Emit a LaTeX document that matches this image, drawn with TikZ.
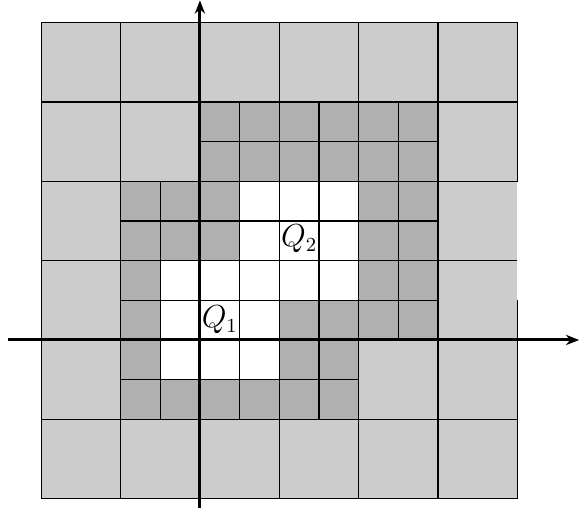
\documentclass[tikz,border=0pt]{standalone}
\usepackage{amsmath,amssymb}
\usepackage{tikz}
\usetikzlibrary{arrows.meta}
\usepackage{xcolor}

\begin{document}
\begin{tikzpicture}[x=0.63cm,y=0.63cm,
    bigcell/.style={fill=black!20,draw=black,line width=0.6pt},
    smallcell/.style={fill=black!31,draw=black,line width=0.6pt},
    hole/.style={fill=white,draw=black,line width=0.6pt},
    label/.style={font=\fontsize{13.5}{16}\selectfont},
    axis/.style={line width=1.35pt,-{Stealth[length=6pt,width=4.6pt]}}]
    \useasboundingbox (-5.04,-4.34) rectangle (9.58,8.57);
    % coarse cells
    \foreach \x/\y in {-4/6, -2/6, 0/6, 2/6, 4/6, 6/6,
                       -4/4, -2/4, 6/4,
                       -4/2,
                       -4/0,
                       -4/-2, 4/-2, 6/-2,
                       -4/-4, -2/-4, 0/-4, 2/-4, 4/-4, 6/-4} {
      \draw[bigcell] (\x,\y) rectangle ++(2,2);
    }
    % right column, the edge at x=8 is left open between y=1 and y=4
    \fill[black!20] (6,0) rectangle (8,4);
    \draw[line width=0.6pt] (8,4) -- (6,4) -- (6,0) -- (8,0) -- (8,1);
    \draw[line width=0.6pt] (6,2) -- (8,2);
    % refined cells
    \foreach \x/\y in {0/4, 2/4, 4/4, -2/2, 0/2, 2/2, 4/2,
                       -2/0, 0/0, 2/0, 4/0, -2/-2, 0/-2, 2/-2} {
      \foreach \i in {0,1} {
        \foreach \j in {0,1} {
          \draw[smallcell] (\x+\i,\y+\j) rectangle ++(1,1);
        }
      }
    }
    % Q_1 and Q_2
    \foreach \x/\y in {1/3, 2/3, 3/3, 1/2, 2/2, 3/2,
                       -1/1, 0/1, 1/1, 2/1, 3/1,
                       -1/0, 0/0, 1/0, -1/-1, 0/-1, 1/-1} {
      \draw[hole] (\x,\y) rectangle ++(1,1);
    }
    \node[label] (q1) at (0.5,0.5) {$Q_1$};
    \node[label] (q2) at (2.5,2.55) {$Q_2$};
    % axes
    \coordinate (xmin) at (-4.84,0);
    \coordinate (xmax) at (9.56,0);
    \coordinate (ymin) at (0,-4.23);
    \coordinate (ymax) at (0,8.56);
    \draw[axis] (xmin) -- (xmax);
    \draw[axis] (ymin) -- (ymax);
  \end{tikzpicture}
\end{document}
